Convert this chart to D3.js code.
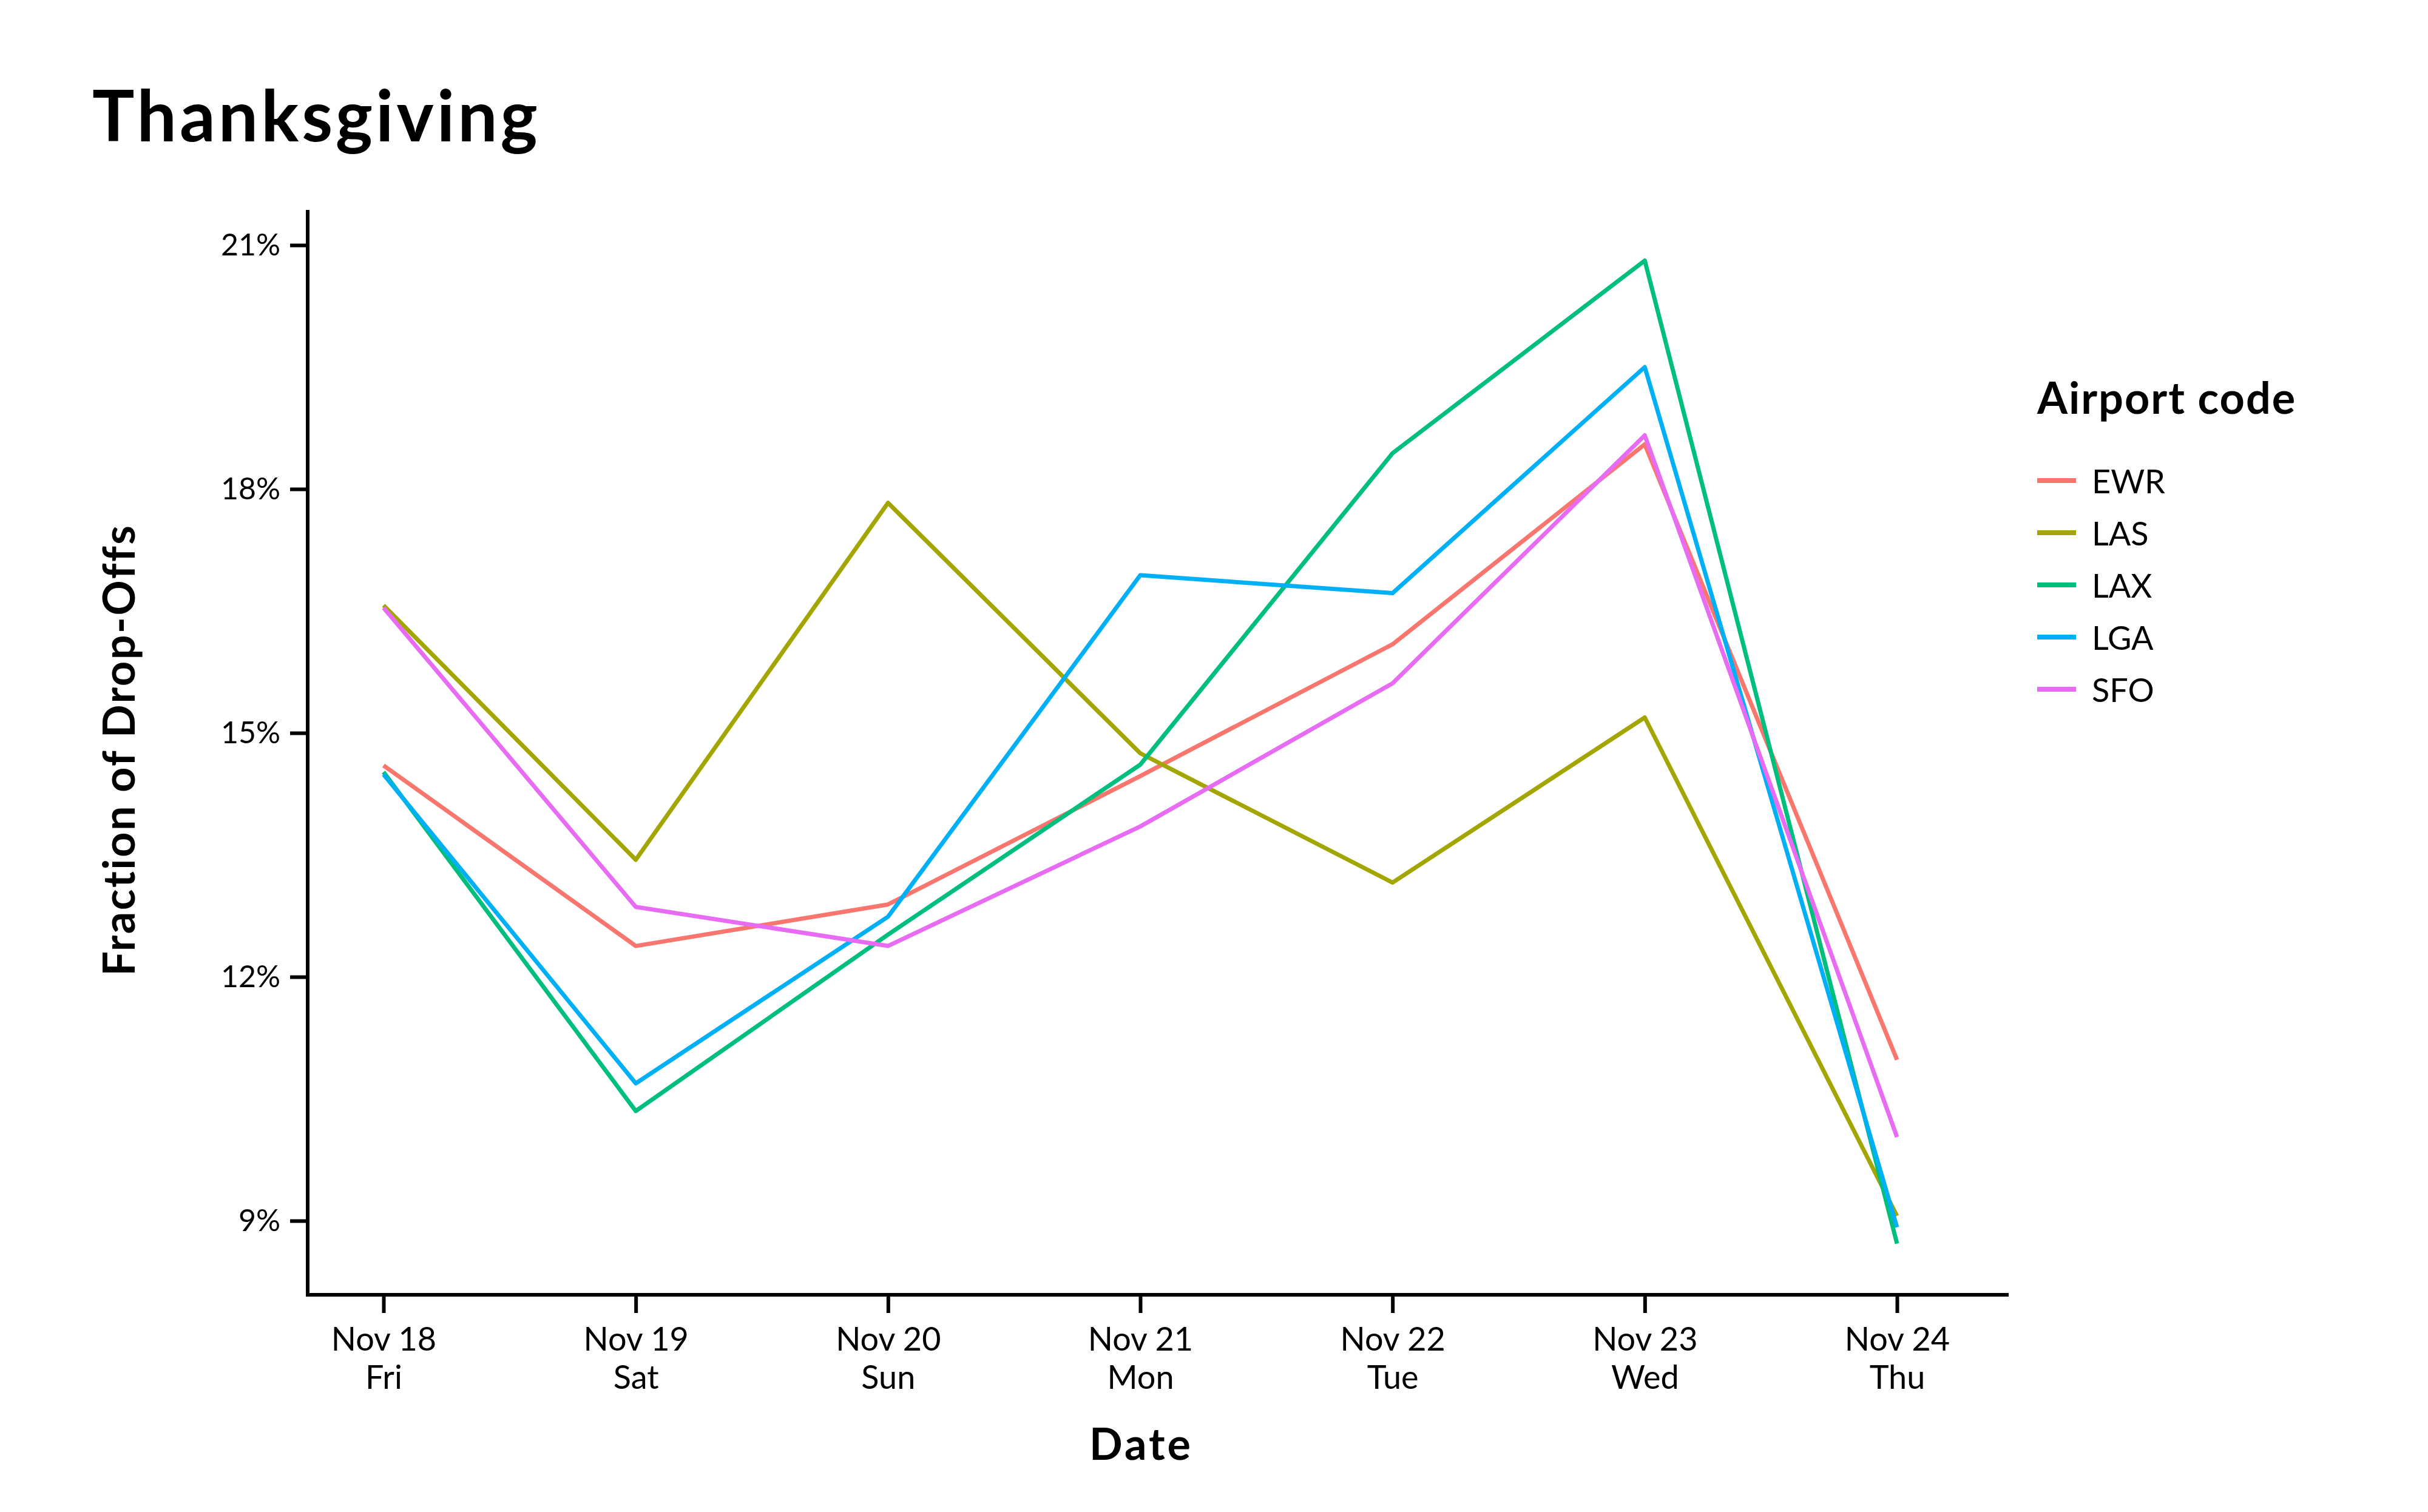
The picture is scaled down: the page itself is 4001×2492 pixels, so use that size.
<!DOCTYPE html>
<html>
<head>
<meta charset="utf-8">
<script src="https://cdn.jsdelivr.net/npm/d3@7"></script>
<style>
  html, body { margin: 0; padding: 0; background: #ffffff; }
  svg { display: block; }
  text { font-family: "Lato", "Noto Sans", sans-serif; fill: #000; }
</style>
</head>
<body>
<svg id="chart" width="4001" height="2492"></svg>
<script>
const dates = ["Nov 18", "Nov 19", "Nov 20", "Nov 21", "Nov 22", "Nov 23", "Nov 24"];
const weekdays = ["Fri", "Sat", "Sun", "Mon", "Tue", "Wed", "Thu"];
const airports = ["EWR", "LAS", "LAX", "LGA", "SFO"];
const colors = ["#F8766D", "#A3A500", "#00BF7D", "#00B0F6", "#E76BF3"];
const EWR = [14.60, 12.38, 12.89, 14.47, 16.09, 18.55, 10.98];
const LAS = [16.57, 13.44, 17.83, 14.75, 13.16, 15.19, 9.06];
const LAX = [14.52, 10.35, 12.52, 14.61, 18.44, 20.81, 8.72];
const LGA = [14.49, 10.69, 12.74, 16.94, 16.72, 19.50, 8.92];
const SFO = [16.54, 12.86, 12.38, 13.85, 15.61, 18.66, 10.03];
const yTicks = [9, 12, 15, 18, 21];

const seriesValues = [EWR, LAS, LAX, LGA, SFO];
const series = airports.map((a, i) => ({
  name: a, color: colors[i],
  values: dates.map((d, j) => ({ date: d, value: seriesValues[i][j] }))
}));

const svg = d3.select("#chart");

const axisLeftX = 507, axisRightX = 3310, axisTopY = 346, axisBottomY = 2134;

const x = d3.scalePoint().domain(dates).range([632, 3126]);
const y = d3.scaleLinear().domain([9, 21]).range([2012, 404]);

// Title
svg.append("text")
  .attr("x", 152).attr("y", 233)
  .style("font-size", "116px").style("font-weight", 700)
  .style("letter-spacing", "5px")
  .text("Thanksgiving");

// Lines
const line = d3.line().x(d => x(d.date)).y(d => y(d.value));
svg.append("g").selectAll("path").data(series).join("path")
  .attr("d", d => line(d.values))
  .attr("fill", "none")
  .attr("stroke", d => d.color)
  .attr("stroke-width", 7)
  .attr("stroke-linejoin", "round");

// Y axis
const yAxis = svg.append("g").attr("transform", `translate(${axisLeftX},0)`)
  .call(d3.axisLeft(y).tickValues(yTicks).tickFormat(d => d + "%").tickSize(29).tickPadding(16));
yAxis.select(".domain").remove();
yAxis.append("line").attr("x1", 0).attr("x2", 0).attr("y1", axisTopY).attr("y2", axisBottomY + 3)
  .attr("stroke", "#000").attr("stroke-width", 6);
yAxis.selectAll(".tick line").attr("stroke", "#000").attr("stroke-width", 6);
yAxis.selectAll(".tick text").style("font-size", "50px").style("font-family", "Lato").attr("fill", "#000");

// X axis
const xAxis = svg.append("g").attr("transform", `translate(0,${axisBottomY})`)
  .call(d3.axisBottom(x).tickSize(30).tickFormat(""));
xAxis.select(".domain").remove();
xAxis.append("line").attr("x1", axisLeftX - 3).attr("x2", axisRightX).attr("y1", 0).attr("y2", 0)
  .attr("stroke", "#000").attr("stroke-width", 6);
xAxis.selectAll(".tick line").attr("stroke", "#000").attr("stroke-width", 6);
xAxis.selectAll(".tick").each(function(d, i) {
  const t = d3.select(this).append("text")
    .attr("text-anchor", "middle")
    .style("font-size", "54px").style("font-family", "Lato")
    .attr("fill", "#000");
  t.append("tspan").attr("x", 0).attr("y", 92).text(d);
  t.append("tspan").attr("x", 0).attr("y", 155).text(weekdays[i]);
});

// Axis titles
svg.append("text")
  .attr("x", (axisLeftX + axisRightX) / 2 - 28).attr("y", 2406)
  .attr("text-anchor", "middle")
  .style("font-size", "72px").style("font-weight", 700)
  .style("letter-spacing", "4px")
  .text("Date");
svg.append("text")
  .attr("transform", `translate(222,${(axisTopY + axisBottomY) / 2 - 4}) rotate(-90)`)
  .attr("text-anchor", "middle")
  .style("font-size", "72px").style("font-weight", 700)
  .style("letter-spacing", "2.5px")
  .text("Fraction of Drop-Offs");

// Legend
const legend = svg.append("g").attr("transform", "translate(3357,0)");
legend.append("text").attr("x", 0).attr("y", 682)
  .style("font-size", "72px").style("font-weight", 700)
  .style("letter-spacing", "2px")
  .text("Airport code");
const items = legend.selectAll("g.item").data(series).join("g")
  .attr("class", "item")
  .attr("transform", (d, i) => `translate(0,${792 + i * 86})`);
items.append("line").attr("x1", 0).attr("x2", 64).attr("y1", 0).attr("y2", 0)
  .attr("stroke", d => d.color).attr("stroke-width", 8);
items.append("text").attr("x", 90).attr("y", 21)
  .style("font-size", "54px")
  .text(d => d.name);
</script>
</body>
</html>
